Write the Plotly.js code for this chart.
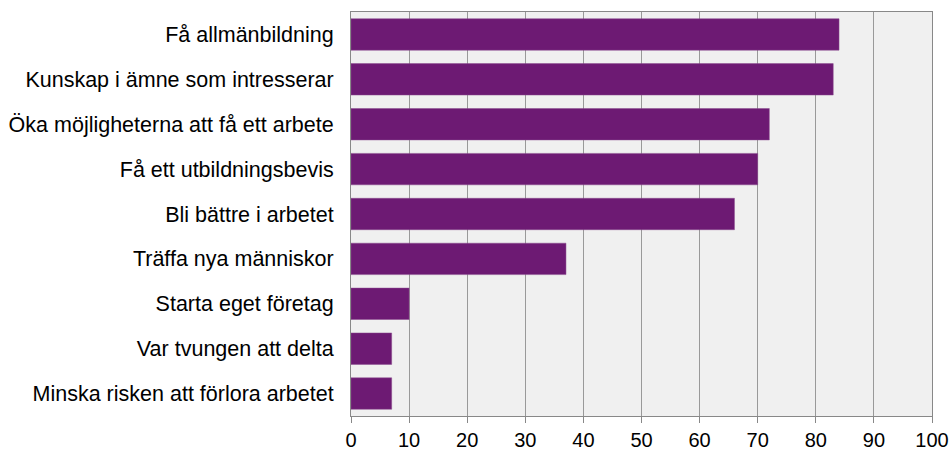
<!DOCTYPE html>
<html><head><meta charset="utf-8">
<script src="https://cdn.plot.ly/plotly-3.0.1.min.js"></script>
<style>html,body{margin:0;padding:0;background:#fff}</style>
</head><body>
<div id="chart" style="width:951px;height:453px"></div>
<script>
const categories = ["Få allmänbildning","Kunskap i ämne som intresserar","Öka möjligheterna att få ett arbete","Få ett utbildningsbevis","Bli bättre i arbetet","Träffa nya människor","Starta eget företag","Var tvungen att delta","Minska risken att förlora arbetet"];
const values = [84,83,72,70,66,37,10,7,7];
const tickVals = [0,10,20,30,40,50,60,70,80,90,100];

Plotly.newPlot('chart', [{
  type: 'bar', orientation: 'h',
  y: categories, x: values,
  marker: {color: '#6d1a73', line: {color: '#8a4a8f', width: 0.5}},
  hoverinfo: 'none'
}], {
  width: 951, height: 453,
  margin: {l: 351, r: 19, t: 12, b: 37},
  paper_bgcolor: '#ffffff', plot_bgcolor: '#f0f0f0',
  bargap: 0.3,
  font: {family: 'Liberation Sans, Arial, sans-serif', size: 20, color: '#000'},
  xaxis: {range: [0,100], tickvals: tickVals, ticktext: tickVals.map(String),
    tickfont: {size: 20},
    showgrid: true, gridcolor: '#999999', gridwidth: 1,
    ticks: 'outside', ticklen: 6, tickcolor: '#888', showline: true, linecolor: '#888', linewidth: 1,
    mirror: true, zeroline: false, fixedrange: true},
  yaxis: {autorange: 'reversed', categoryorder: 'array', categoryarray: categories,
    tickfont: {size: 21.5},
    ticks: '', showline: true, linecolor: '#888', linewidth: 1, mirror: true,
    ticklabelstandoff: 12, fixedrange: true},
  showlegend: false
}, {displayModeBar: false, staticPlot: true});
</script>
</body></html>
